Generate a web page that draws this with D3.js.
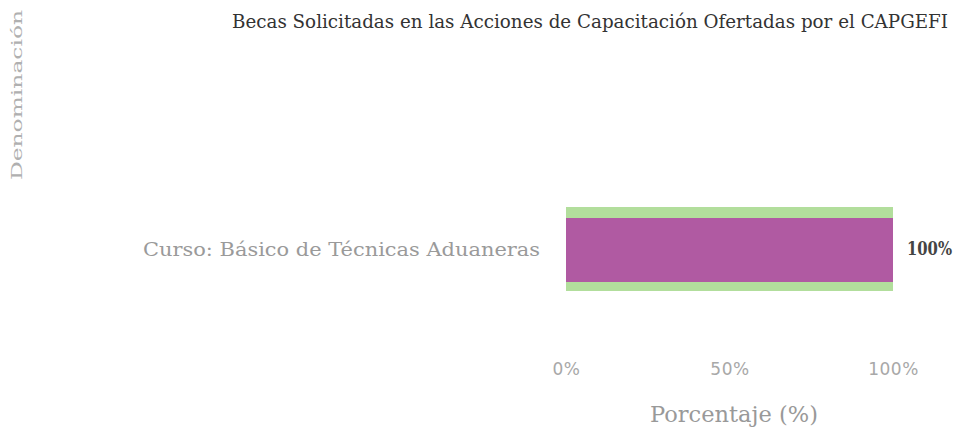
<!DOCTYPE html>
<html>
<head>
<meta charset="utf-8">
<script src="https://cdn.jsdelivr.net/npm/d3@7"></script>
<style>
  body { margin: 0; background: #fff; }
  svg text { font-family: "DejaVu Serif", "Liberation Serif", serif; }
</style>
</head>
<body>
<div id="chart"></div>
<script>
// data
var categories = ["Curso: Básico de Técnicas Aduaneras"];
var values = [100];
var tickValues = [0, 50, 100];
var title = "Becas Solicitadas en las Acciones de Capacitación Ofertadas por el CAPGEFI";

var width = 968, height = 437;
var svg = d3.select("#chart").append("svg")
  .attr("width", width)
  .attr("height", height);

var x = d3.scaleLinear().domain([0, 100]).range([566, 893]);
var y = d3.scaleBand().domain(categories).range([207, 291]).padding(0);

// title
svg.append("text")
  .attr("x", 232).attr("y", 28)
  .attr("font-size", 18)
  .attr("fill", "#333")
  .attr("textLength", 716)
  .attr("lengthAdjust", "spacingAndGlyphs")
  .text(title);

// y axis title
svg.append("text")
  .attr("transform", "translate(22,180) rotate(-90)")
  .attr("font-size", 15)
  .attr("fill", "#b0b0b0")
  .attr("textLength", 170)
  .attr("lengthAdjust", "spacingAndGlyphs")
  .text("Denominación");

// bars: green halo behind, purple fill
var bars = svg.append("g").selectAll("g").data(values).enter().append("g");
bars.append("rect")
  .attr("x", x(0))
  .attr("y", function(d, i) { return y(categories[i]); })
  .attr("width", function(d) { return x(d) - x(0); })
  .attr("height", y.bandwidth())
  .attr("fill", "#b2de9c");
bars.append("rect")
  .attr("x", x(0))
  .attr("y", function(d, i) { return y(categories[i]) + 11; })
  .attr("width", function(d) { return x(d) - x(0); })
  .attr("height", y.bandwidth() - 20)
  .attr("fill", "#b05aa2");

// value labels
bars.append("text")
  .attr("x", function(d) { return x(d) + 14; })
  .attr("y", function(d, i) { return y(categories[i]) + y.bandwidth() / 2 + 6; })
  .attr("font-size", 18)
  .attr("font-weight", "bold")
  .attr("fill", "#444")
  .attr("textLength", 45)
  .attr("lengthAdjust", "spacingAndGlyphs")
  .text(function(d) { return d + "%"; });

// category labels
svg.append("g").selectAll("text").data(categories).enter().append("text")
  .attr("x", 143)
  .attr("y", function(d) { return y(d) + y.bandwidth() / 2 + 7; })
  .attr("font-size", 19)
  .attr("fill", "#9a9a9a")
  .attr("textLength", 397)
  .attr("lengthAdjust", "spacingAndGlyphs")
  .text(function(d) { return d; });

// x axis
var xAxis = d3.axisBottom(x).tickValues(tickValues).tickSize(0)
  .tickFormat(function(d) { return d + "%"; });
var gx = svg.append("g").attr("transform", "translate(0,360)").call(xAxis);
gx.select(".domain").remove();
gx.selectAll("text")
  .style("font-family", "'DejaVu Sans', 'Liberation Sans', sans-serif")
  .style("letter-spacing", "0.5px")
  .attr("font-size", 17)
  .attr("fill", "#a8a8a8");

svg.append("text")
  .attr("x", 650).attr("y", 422)
  .attr("font-size", 23)
  .attr("fill", "#999")
  .attr("textLength", 168)
  .attr("lengthAdjust", "spacingAndGlyphs")
  .text("Porcentaje (%)");
</script>
</body>
</html>
